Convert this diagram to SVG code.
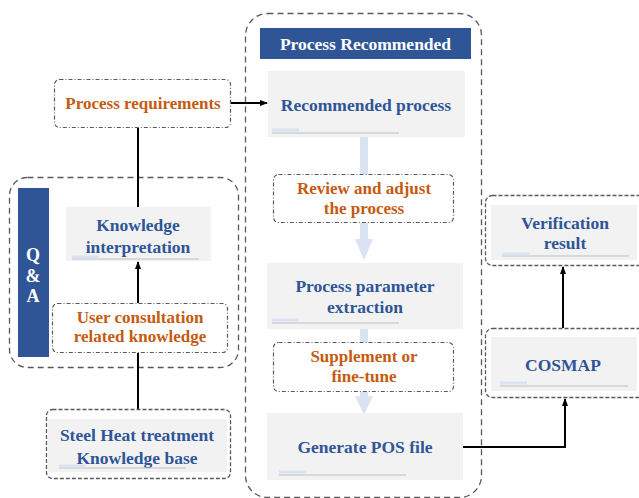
<svg xmlns="http://www.w3.org/2000/svg" width="639" height="498" viewBox="0 0 639 498">
<defs>
<marker id="ah" markerWidth="8" markerHeight="8" refX="7" refY="4" orient="auto" markerUnits="userSpaceOnUse">
<path d="M0,1 L8,4 L0,7 Z" fill="#000"/>
</marker>
<style>
.grp{fill:none;stroke:#595959;stroke-width:1.3;stroke-dasharray:6 4}
.dd{fill:#fff;stroke:#595959;stroke-width:1.2;stroke-dasharray:4 2 1 2}
.gb{fill:#F2F2F2}
.bt{font-family:"Liberation Serif","Times New Roman",serif;font-weight:bold;font-size:17.5px;fill:#2F5597;text-anchor:middle}
.ot{font-family:"Liberation Serif","Times New Roman",serif;font-weight:bold;font-size:17px;fill:#C55A11;text-anchor:middle}
.wt{font-family:"Liberation Serif","Times New Roman",serif;font-weight:bold;font-size:18px;fill:#fff;text-anchor:middle}
.ub{stroke:#DAE3F3;stroke-width:3}
.ug{stroke:#BFBFBF;stroke-width:1}
.bl{fill:#DAE3F3}
.con{fill:none;stroke:#000;stroke-width:2}
</style>
</defs>
<rect width="639" height="498" fill="#fff"/>

<!-- group containers -->
<g id="process-recommended-group">
<rect class="grp" x="245.5" y="13.5" width="236" height="484" rx="22"/>
<rect x="260" y="28" width="211" height="31" fill="#2F5597"/>
<text class="wt" x="365.5" y="50" style="font-size:17.5px">Process Recommended</text>
</g>
<g id="qa-group">
<rect class="grp" x="9.5" y="177.5" width="229" height="190" rx="18"/>
<rect x="18" y="188" width="31" height="169" fill="#2F5597"/>
<text class="wt" x="33" y="261">Q</text>
<text class="wt" x="33" y="282">&amp;</text>
<text class="wt" x="33" y="302">A</text>
</g>

<!-- flow arrows (light blue) -->
<g id="flow-arrows">
<rect class="bl" x="360" y="137" width="8" height="37"/>
<rect class="bl" x="360" y="223" width="8" height="17"/>
<polygon class="bl" points="355,239 373,239 364,260"/>
<rect class="bl" x="360" y="329" width="8" height="13"/>
<rect class="bl" x="360" y="392" width="8" height="5"/>
<polygon class="bl" points="355,396 373,396 364,415"/>
</g>

<!-- connectors -->
<g id="connectors">
<line class="con" x1="231" y1="103" x2="267" y2="103" marker-end="url(#ah)"/>
<line class="con" x1="138" y1="128" x2="138" y2="207"/>
<line class="con" x1="138" y1="303" x2="138" y2="262" marker-end="url(#ah)"/>
<line class="con" x1="138" y1="409" x2="138" y2="353"/>
<polyline class="con" points="463,447 565,447 565,399" marker-end="url(#ah)"/>
<line class="con" x1="563" y1="328" x2="563" y2="267" marker-end="url(#ah)"/>
</g>

<g id="process-requirements">
<rect class="dd" x="54.5" y="79.5" width="176" height="48" rx="5"/>
<text class="ot" x="143" y="109">Process requirements</text>
</g>

<g id="recommended-process">
<rect class="gb" x="268" y="71" width="197" height="66"/>
<text class="bt" x="366" y="111">Recommended process</text>
<line class="ug" x1="272" y1="133" x2="399" y2="133"/>
<line class="ub" x1="272" y1="130" x2="299" y2="130"/>
</g>

<g id="review-adjust">
<rect class="dd" x="273.5" y="174.5" width="180" height="48" rx="5"/>
<text class="ot" x="364" y="194">Review and adjust</text>
<text class="ot" x="364" y="214">the process</text>
</g>

<g id="process-parameter-extraction">
<rect class="gb" x="267" y="263" width="196" height="66"/>
<text class="bt" x="365" y="292">Process parameter</text>
<text class="bt" x="365" y="313">extraction</text>
<line class="ug" x1="272" y1="323" x2="399" y2="323"/>
<line class="ub" x1="272" y1="320" x2="299" y2="320"/>
</g>

<g id="supplement-fine-tune">
<rect class="dd" x="273.5" y="342.5" width="180" height="49" rx="5"/>
<text class="ot" x="364" y="362">Supplement or</text>
<text class="ot" x="364" y="382">fine-tune</text>
</g>

<g id="generate-pos-file">
<rect class="gb" x="267" y="413" width="196" height="67"/>
<text class="bt" x="365" y="453">Generate POS file</text>
<line class="ug" x1="279" y1="475" x2="406" y2="475"/>
<line class="ub" x1="279" y1="472" x2="306" y2="472"/>
</g>

<g id="knowledge-interpretation">
<rect class="gb" x="66" y="207" width="145" height="54"/>
<text class="bt" x="138" y="231">Knowledge</text>
<text class="bt" x="138" y="253">interpretation</text>
<line class="ug" x1="72" y1="259" x2="199" y2="259"/>
<line class="ub" x1="72" y1="257" x2="99" y2="257"/>
</g>

<g id="user-consultation">
<rect class="dd" x="52.5" y="303.5" width="175" height="49" rx="5"/>
<text class="ot" x="140" y="323">User consultation</text>
<text class="ot" x="140" y="342">related knowledge</text>
</g>

<g id="steel-knowledge-base">
<rect class="grp" x="46.5" y="409.5" width="184" height="69" rx="6" style="stroke-dasharray:4 2"/>
<rect class="gb" x="48" y="419" width="179" height="53"/>
<text class="bt" x="137" y="441">Steel Heat treatment</text>
<text class="bt" x="137" y="464">Knowledge base</text>
<line class="ug" x1="59" y1="468" x2="186" y2="468"/>
<line class="ub" x1="59" y1="466" x2="85" y2="466"/>
</g>

<g id="verification-result">
<rect class="grp" x="485.5" y="195.5" width="160" height="70" rx="7" style="stroke-dasharray:4 2"/>
<rect class="gb" x="491" y="205" width="146" height="55"/>
<text class="bt" x="565" y="229">Verification</text>
<text class="bt" x="565" y="249">result</text>
<line class="ug" x1="502" y1="256" x2="629" y2="256"/>
<line class="ub" x1="502" y1="254" x2="529" y2="254"/>
</g>

<g id="cosmap">
<rect class="grp" x="485.5" y="328.5" width="160" height="69" rx="7" style="stroke-dasharray:4 2"/>
<rect class="gb" x="491" y="337" width="146" height="54"/>
<text class="bt" x="563" y="371">COSMAP</text>
<line class="ug" x1="500" y1="386" x2="628" y2="386"/>
<line class="ub" x1="500" y1="383" x2="527" y2="383"/>
</g>
</svg>
